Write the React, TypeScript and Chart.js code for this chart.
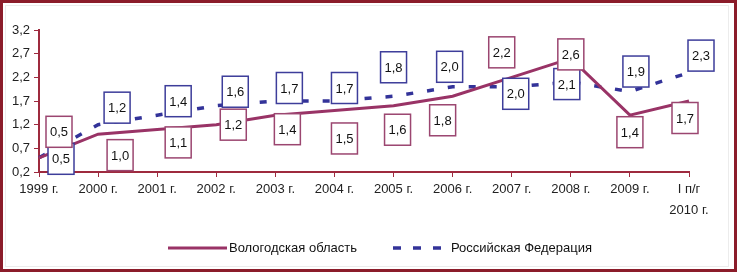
import React, { useEffect, useRef } from "react";
import { Chart, registerables } from "chart.js";

Chart.register(...registerables);

const categories: (string | string[])[] = [
  "1999 г.", "2000 г.", "2001 г.", "2002 г.", "2003 г.", "2004 г.",
  "2005 г.", "2006 г.", "2007 г.", "2008 г.", "2009 г.", ["I п/г", "2010 г."],
];
const vologda = [0.5, 1.0, 1.1, 1.2, 1.4, 1.5, 1.6, 1.8, 2.2, 2.6, 1.4, 1.7];
const russia = [0.5, 1.2, 1.4, 1.6, 1.7, 1.7, 1.8, 2.0, 2.0, 2.1, 1.9, 2.3];
const seriesNames = ["Вологодская область", "Российская Федерация"];
const yMin = 0.2;
const yMax = 3.2;
const yStep = 0.5;

// label box placement relative to the point (style only)
const vologdaLabelShift = [[20, -26], [22, 21], [21, 13], [17, 0], [12, 14], [10, 28], [4, 24], [-10, 24], [-10, -25], [0, -4], [0, 17], [-4, 17]];
const russiaLabelShift = [[22, 1], [19, -17], [21, -14], [19, -14], [14, -13], [10, -13], [0, -29], [-3, -20], [4, 7], [-4, 2], [6, -20], [12, -17]];

const PINK = "#993366";
const BLUE = "#333399";
const AXIS = "#9E2A3E";
const FONT = "'Liberation Sans', Arial, sans-serif";
const fmt = (v: number) => v.toFixed(1).replace(".", ",");

const labelPlugin = {
  id: "boxLabels",
  afterDatasetsDraw(chart: any) {
    const ctx = chart.ctx;
    const shifts = [vologdaLabelShift, russiaLabelShift];
    const colors = ["#9B4670", "#3D3D9A"];
    [1, 0].forEach((di) => {
      const meta = chart.getDatasetMeta(di);
      const data = chart.data.datasets[di].data as number[];
      meta.data.forEach((pt: any, i: number) => {
        const [dx, dy] = shifts[di][i];
        const cx = pt.x + dx;
        const cy = pt.y + dy;
        const w = 26, h = 31;
        ctx.save();
        ctx.fillStyle = "#ffffff";
        ctx.fillRect(cx - w / 2, cy - h / 2, w, h);
        ctx.lineWidth = 1.5;
        ctx.strokeStyle = colors[di];
        ctx.strokeRect(cx - w / 2, cy - h / 2, w, h);
        ctx.fillStyle = "#111111";
        ctx.font = `13px ${FONT}`;
        ctx.textAlign = "center";
        ctx.textBaseline = "middle";
        ctx.fillText(fmt(data[i]), cx, cy + 1);
        ctx.restore();
      });
    });
  },
};

const framePlugin = {
  id: "frameLegend",
  afterDraw(chart: any) {
    const ctx = chart.ctx;
    const W = chart.width, H = chart.height;
    ctx.save();
    // legend
    ctx.lineWidth = 3;
    ctx.strokeStyle = PINK;
    ctx.beginPath();
    ctx.moveTo(168, 248);
    ctx.lineTo(227, 248);
    ctx.stroke();
    ctx.fillStyle = "#111111";
    ctx.font = `13px ${FONT}`;
    ctx.textBaseline = "middle";
    ctx.textAlign = "left";
    ctx.fillText(seriesNames[0], 229, 248);
    ctx.strokeStyle = BLUE;
    ctx.lineWidth = 3.5;
    ctx.setLineDash([8, 12]);
    ctx.beginPath();
    ctx.moveTo(393, 248);
    ctx.lineTo(441, 248);
    ctx.stroke();
    ctx.setLineDash([]);
    ctx.fillText(seriesNames[1], 451, 248);
    // frame
    ctx.strokeStyle = "#ececec";
    ctx.lineWidth = 1;
    ctx.strokeRect(5.5, 5.5, W - 14, H - 11);
    ctx.strokeStyle = "#8B1C2A";
    ctx.lineWidth = 3;
    ctx.strokeRect(1.5, 1.5, W - 3, H - 3);
    ctx.restore();
  },
};

export default function App() {
  const ref = useRef<HTMLCanvasElement>(null);
  useEffect(() => {
    document.body.style.margin = "0";
    const chart = new Chart(ref.current!, {
      type: "line",
      data: {
        labels: categories as any,
        datasets: [
          {
            label: seriesNames[0],
            data: vologda,
            borderColor: PINK,
            backgroundColor: PINK,
            borderWidth: 3,
            pointRadius: 0,
            tension: 0,
          },
          {
            label: seriesNames[1],
            data: russia,
            borderColor: BLUE,
            backgroundColor: BLUE,
            borderWidth: 3.5,
            borderDash: [7, 14],
            pointRadius: 0,
            tension: 0,
          },
        ],
      },
      options: {
        animation: false,
        responsive: false,
        maintainAspectRatio: false,
        layout: { padding: { left: 0, right: 48, top: 30, bottom: 50 } },
        plugins: { legend: { display: false }, tooltip: { enabled: false } },
        scales: {
          x: {
            offset: false,
            grid: { display: true, drawOnChartArea: false, drawTicks: true, tickLength: 5, color: AXIS, lineWidth: 1 },
            border: { display: true, color: AXIS, width: 2 },
            ticks: {
              color: "#222222",
              font: { size: 13, family: FONT, lineHeight: "21px" },
              padding: 2,
              maxRotation: 0,
              autoSkip: false,
            },
            afterFit(scale: any) { scale.height = 50; },
          },
          y: {
            min: yMin,
            max: yMax,
            grid: { display: true, drawOnChartArea: false, drawTicks: true, tickLength: 5, color: AXIS, lineWidth: 1 },
            border: { display: true, color: AXIS, width: 2 },
            ticks: {
              stepSize: yStep,
              color: "#222222",
              font: { size: 13, family: FONT },
              padding: 4,
              callback: (v: any) => fmt(Number(v)),
            },
            afterFit(scale: any) { scale.width = 39; },
          },
        },
      },
      plugins: [labelPlugin, framePlugin],
    });
    return () => chart.destroy();
  }, []);
  return (
    <div style={{ position: "absolute", left: 0, top: 0, width: 737, height: 272 }}>
      <canvas ref={ref} width={737} height={272} style={{ width: 737, height: 272, display: "block" }} />
    </div>
  );
}
